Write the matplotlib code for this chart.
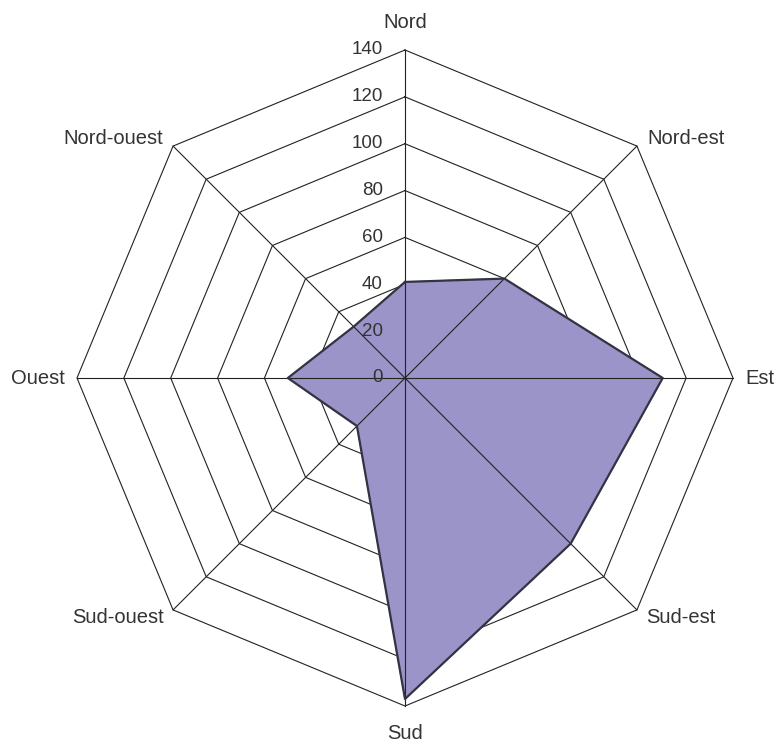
import numpy as np
import matplotlib
matplotlib.use('Agg')
import matplotlib.pyplot as plt

plt.rcParams['font.family'] = ['Liberation Sans', 'DejaVu Sans']

# data
directions = ['Nord', 'Nord-est', 'Est', 'Sud-est', 'Sud', 'Sud-ouest', 'Ouest', 'Nord-ouest']
values = [41, 60, 110, 100, 137, 29, 50, 31]
ring_levels = [0, 20, 40, 60, 80, 100, 120, 140]

rmax = 140
scale = 328 / rmax  # pixels per unit
W, H = 776, 743
cx, cy = 405, 378

fig = plt.figure(figsize=(W / 100, H / 100), dpi=100)
ax = fig.add_axes([0, 0, 1, 1])
ax.set_xlim(-cx / scale, (W - cx) / scale)
ax.set_ylim(-(H - cy) / scale, cy / scale)
ax.axis('off')

n = len(directions)
theta = np.arange(n) * 2 * np.pi / n
sx = np.sin(theta)
sy = np.cos(theta)

# polygon grid
for r in ring_levels[1:]:
    ax.plot(np.append(r * sx, r * sx[0]), np.append(r * sy, r * sy[0]),
            color='#222222', lw=0.8, zorder=1)
for i in range(n):
    ax.plot([0, rmax * sx[i]], [0, rmax * sy[i]], color='#222222', lw=0.8, zorder=3)

# data polygon
v = np.array(values)
px = np.append(v * sx, v[0] * sx[0])
py = np.append(v * sy, v[0] * sy[0])
ax.fill(px, py, color='#9a94c8', zorder=2)
ax.plot(px, py, color='#333344', lw=1.6, zorder=4)

# ring labels
for r in ring_levels:
    ax.text(-22 / scale, r, str(r), ha='right', va='center', fontsize=13.5,
            color='#333333', zorder=5)

# direction labels
offsets = {
    'Nord': (0, 18, 'center', 'bottom'),
    'Nord-est': (10, 8, 'left', 'center'),
    'Est': (12, 0, 'left', 'center'),
    'Sud-est': (9, -8, 'left', 'center'),
    'Sud': (0, -18, 'center', 'top'),
    'Sud-ouest': (-9, -8, 'right', 'center'),
    'Ouest': (-12, 0, 'right', 'center'),
    'Nord-ouest': (-10, 8, 'right', 'center'),
}
for i, d in enumerate(directions):
    ox, oy, ha, va = offsets[d]
    ax.text(rmax * sx[i] + ox / scale, rmax * sy[i] + oy / scale, d,
            ha=ha, va=va, fontsize=14.5, color='#333333')

fig.savefig('out.png', dpi=100)
